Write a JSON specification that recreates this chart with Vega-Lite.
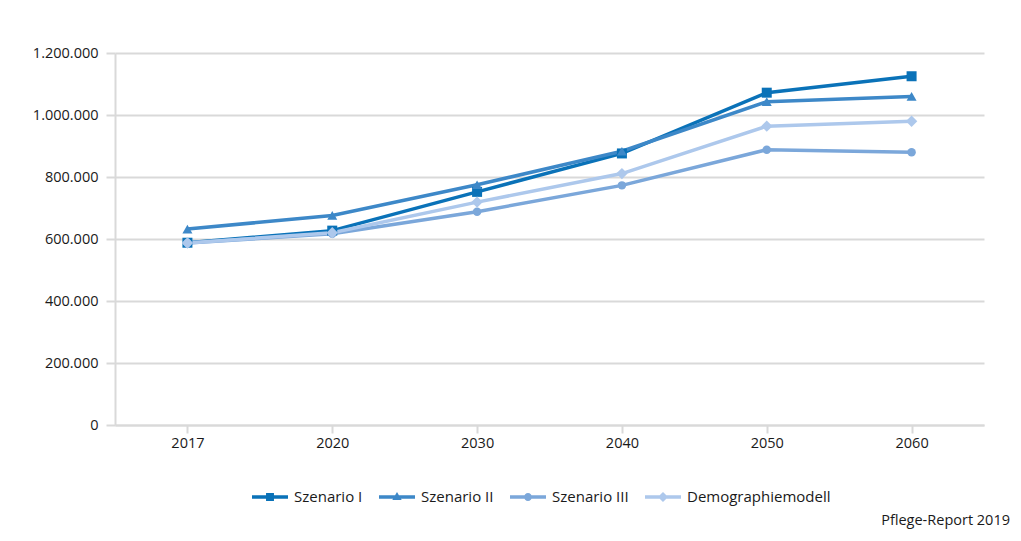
{
  "$schema": "https://vega.github.io/schema/vega-lite/v6.json",
  "width": 869,
  "height": 372,
  "autosize": {"type": "none"},
  "padding": {"left": 115, "top": 53, "right": 37, "bottom": 116},
  "background": "white",
  "config": {
    "locale": {"number": {"decimal": ",", "thousands": ".", "grouping": [3], "currency": ["", " €"]}},
    "font": "Open Sans",
    "view": {"stroke": null},
    "axis": {"labelFont": "Open Sans", "labelFontSize": 14.5, "labelColor": "#1a1a1a", "domainColor": "#d9d9d9", "tickColor": "#d9d9d9", "gridColor": "#d9d9d9", "domainWidth": 2, "tickWidth": 2, "gridWidth": 2}
  },
  "title": {"text": "Pflege-Report 2019", "orient": "bottom", "anchor": "end", "frame": "group", "font": "Open Sans", "fontSize": 14.5, "fontWeight": "normal", "color": "#1a1a1a", "dx": 26, "offset": 9},
  "data": {"values": [
    {"Jahr": "2017", "Serie": "Szenario I", "Wert": 588000},
    {"Jahr": "2020", "Serie": "Szenario I", "Wert": 627000},
    {"Jahr": "2030", "Serie": "Szenario I", "Wert": 752000},
    {"Jahr": "2040", "Serie": "Szenario I", "Wert": 876000},
    {"Jahr": "2050", "Serie": "Szenario I", "Wert": 1072000},
    {"Jahr": "2060", "Serie": "Szenario I", "Wert": 1125000},
    {"Jahr": "2017", "Serie": "Szenario II", "Wert": 632000},
    {"Jahr": "2020", "Serie": "Szenario II", "Wert": 676000},
    {"Jahr": "2030", "Serie": "Szenario II", "Wert": 775000},
    {"Jahr": "2040", "Serie": "Szenario II", "Wert": 883000},
    {"Jahr": "2050", "Serie": "Szenario II", "Wert": 1043000},
    {"Jahr": "2060", "Serie": "Szenario II", "Wert": 1060000},
    {"Jahr": "2017", "Serie": "Szenario III", "Wert": 587000},
    {"Jahr": "2020", "Serie": "Szenario III", "Wert": 617000},
    {"Jahr": "2030", "Serie": "Szenario III", "Wert": 688000},
    {"Jahr": "2040", "Serie": "Szenario III", "Wert": 773000},
    {"Jahr": "2050", "Serie": "Szenario III", "Wert": 888000},
    {"Jahr": "2060", "Serie": "Szenario III", "Wert": 880000},
    {"Jahr": "2017", "Serie": "Demographiemodell", "Wert": 587000},
    {"Jahr": "2020", "Serie": "Demographiemodell", "Wert": 620000},
    {"Jahr": "2030", "Serie": "Demographiemodell", "Wert": 719000},
    {"Jahr": "2040", "Serie": "Demographiemodell", "Wert": 811000},
    {"Jahr": "2050", "Serie": "Demographiemodell", "Wert": 964000},
    {"Jahr": "2060", "Serie": "Demographiemodell", "Wert": 980000}
  ]},
  "encoding": {
    "x": {"field": "Jahr", "type": "ordinal", "scale": {"type": "point", "padding": 0.5},
      "axis": {"title": null, "labelAngle": 0, "grid": false, "tickSize": 8, "labelPadding": 3}},
    "y": {"field": "Wert", "type": "quantitative", "scale": {"domain": [0, 1200000], "nice": false},
      "axis": {"title": null, "values": [0, 200000, 400000, 600000, 800000, 1000000, 1200000], "format": ",d", "tickSize": 9, "labelPadding": 8, "grid": true}},
    "color": {"field": "Serie", "type": "nominal",
      "scale": {"domain": ["Szenario I", "Szenario II", "Szenario III", "Demographiemodell"], "range": ["#0a72b8", "#3d88c8", "#7ba7da", "#adc8ec"]},
      "legend": {"title": null, "orient": "none", "legendX": 137, "legendY": 426, "direction": "horizontal", "columns": 4,
        "symbolSize": 1296, "labelOffset": 6, "columnPadding": 16, "labelFont": "Open Sans", "labelFontSize": 15, "labelColor": "#1a1a1a", "padding": 0,
        "encode": {"symbols": {"update": {
          "fill": {"scale": "color", "field": "value"},
          "stroke": {"scale": "color", "field": "value"},
          "strokeWidth": {"value": 0},
          "opacity": {"value": 1},
          "size": {"value": 1296},
          "shape": {"signal": "datum.value === 'Szenario I' ? 'M-1,-0.1H1V0.1H-1Z M-0.22,-0.22H0.22V0.22H-0.22Z' : datum.value === 'Szenario II' ? 'M-1,-0.1H1V0.1H-1Z M0,-0.28L0.26,0.16H-0.26Z' : datum.value === 'Szenario III' ? 'M-1,-0.1H1V0.1H-1Z M-0.22,0A0.22,0.22,0,1,1,0.22,0A0.22,0.22,0,1,1,-0.22,0Z' : 'M-1,-0.1H1V0.1H-1Z M0,-0.28L0.28,0L0,0.28L-0.28,0Z'"}
        }}}}
    }
  },
  "layer": [
    {"mark": {"type": "line", "strokeWidth": 3.5}},
    {"transform": [{"filter": "datum.Serie === 'Szenario I'"}], "mark": {"type": "point", "filled": true, "opacity": 1, "shape": "square", "size": 100}},
    {"transform": [{"filter": "datum.Serie === 'Szenario II'"}], "mark": {"type": "point", "filled": true, "opacity": 1, "shape": "triangle-up", "size": 100}},
    {"transform": [{"filter": "datum.Serie === 'Szenario III'"}], "mark": {"type": "point", "filled": true, "opacity": 1, "shape": "circle", "size": 72}},
    {"transform": [{"filter": "datum.Serie === 'Demographiemodell'"}], "mark": {"type": "point", "filled": true, "opacity": 1, "shape": "diamond", "size": 130}}
  ]
}
